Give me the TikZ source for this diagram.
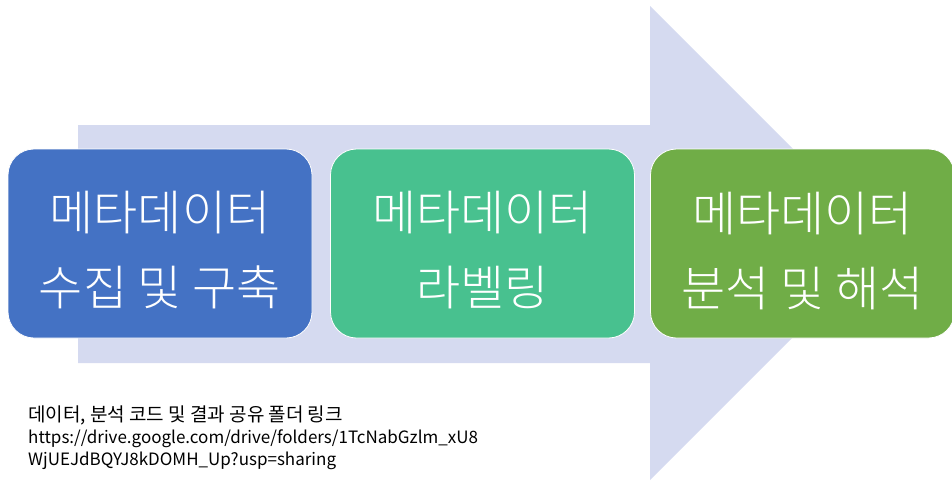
\documentclass[tikz,border=0pt]{standalone}
\usepackage{fontspec}
\setmainfont{Noto Sans CJK KR}
\newfontfamily\krlight{Noto Sans CJK KR Light}
\definecolor{arrowc}{HTML}{D5DAF0}
\definecolor{c1}{HTML}{4472C4}
\definecolor{c2}{HTML}{48C18F}
\definecolor{c3}{HTML}{70AD47}
\tikzset{
  stagebox/.style={draw=white, line width=0.8pt, rounded corners=26pt, minimum width=304pt, minimum height=189pt, inner sep=0pt},
  stagetext/.style={align=center, text=white, inner sep=0pt, font=\krlight\fontsize{48}{75}\selectfont},
  note/.style={anchor=north west, align=left, inner sep=0pt, font=\fontsize{17}{22}\selectfont, text=black}
}
\begin{document}
\begin{tikzpicture}[x=1pt,y=-1pt]
\useasboundingbox (0,0) rectangle (952,483);
\fill[arrowc] (78,125) -- (650,125) -- (650,6) -- (887,243) -- (650,480) -- (650,363) -- (78,363) -- cycle;
\node[stagebox, fill=c1] (b1) at (160,243.5) {};
\node[stagebox, fill=c2] (b2) at (482.5,243.5) {};
\node[stagebox, fill=c3] (b3) at (802.5,243.5) {};
\node[stagetext] (t1) at ([yshift=-7pt]b1.center) {메타데이터\\수집 및 구축};
\node[stagetext] (t2) at ([yshift=-7pt]b2.center) {메타데이터\\라벨링};
\node[stagetext] (t3) at ([yshift=-7pt]b3.center) {메타데이터\\분석 및 해석};
\node[note] (n) at (28,406) {{\fontsize{19}{22}\selectfont 데이터, 분석 코드 및 결과 공유 폴더 링크}\\https://drive.google.com/drive/folders/1TcNabGzlm\_xU8\\WjUEJdBQYJ8kDOMH\_Up?usp=sharing};
\end{tikzpicture}
\end{document}
